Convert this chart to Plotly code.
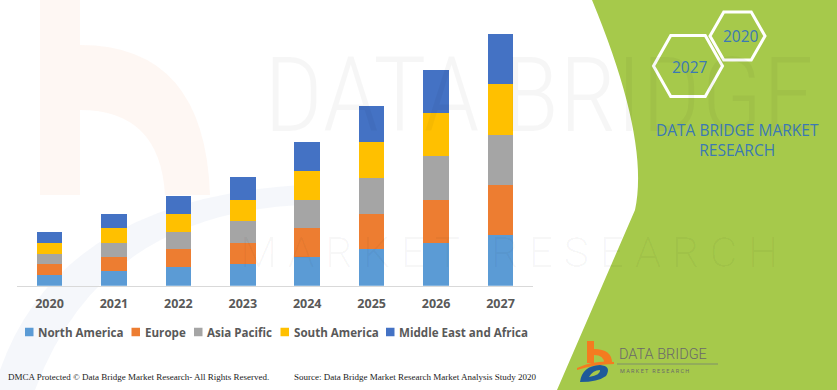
import plotly.graph_objects as go

W, H = 837, 390

years = ["2020", "2021", "2022", "2023", "2024", "2025", "2026", "2027"]
series_names = ["North America", "Europe", "Asia Pacific", "South America", "Middle East and Africa"]
north_america = [10.7, 14.3, 18.3, 21.3, 28.7, 36.3, 43.0, 50.3]
europe = [11.0, 14.7, 18.0, 21.7, 29.0, 35.7, 42.7, 50.3]
asia_pacific = [10.3, 14.0, 17.3, 21.3, 28.0, 36.0, 44.0, 50.3]
south_america = [11.0, 14.7, 18.3, 21.3, 29.0, 35.7, 43.0, 50.7]
middle_east_africa = [10.7, 14.3, 18.3, 22.7, 29.0, 36.3, 43.0, 50.3]
series_values = [north_america, europe, asia_pacific, south_america, middle_east_africa]
colors = ["#5B9BD5", "#ED7D31", "#A5A5A5", "#FFC000", "#4472C4"]

# layout helpers (pixel -> paper)
def X(px):
    return px / W

def Y(py):
    return 1 - py / H

fig = go.Figure()
for name, vals, col in zip(series_names, series_values, colors):
    fig.add_trace(go.Bar(x=years, y=vals, name=name, marker=dict(color=col, line=dict(width=0)),
                         showlegend=False, hoverinfo="x+y+name"))

shapes = []
annotations = []

# --- faint watermark (background) ---
shapes.append(dict(type="rect", xref="paper", yref="paper", x0=X(40), x1=X(80), y0=Y(195), y1=Y(0),
                   fillcolor="rgba(240,140,80,0.07)", line=dict(width=0), layer="below"))
shapes.append(dict(type="path", xref="paper", yref="paper",
                   path=f"M{X(80)},{Y(45)} Q{X(205)},{Y(45)} {X(210)},{Y(195)} L{X(165)},{Y(195)} Q{X(160)},{Y(110)} {X(80)},{Y(110)} Z",
                   fillcolor="rgba(240,140,80,0.07)", line=dict(width=0), layer="below"))
shapes.append(dict(type="path", xref="paper", yref="paper",
                   path=f"M{X(0)},{Y(370)} Q{X(60)},{Y(200)} {X(300)},{Y(185)} L{X(300)},{Y(205)} Q{X(100)},{Y(215)} {X(35)},{Y(390)} L{X(0)},{Y(390)} Z",
                   fillcolor="rgba(90,120,180,0.06)", line=dict(width=0), layer="below"))
annotations.append(dict(text="DATA BRIDGE", x=X(262), y=Y(95), xref="paper", yref="paper", xanchor="left",
                        yanchor="middle", showarrow=False,
                        font=dict(family="Liberation Sans Narrow, Roboto Condensed, Roboto", size=104,
                                  color="rgba(0,0,0,0.035)", weight=300)))
annotations.append(dict(text="M A R K E T   R E S E A R C H", x=X(238), y=Y(252), xref="paper", yref="paper",
                        xanchor="left", yanchor="middle", showarrow=False,
                        font=dict(family="Roboto", size=43, color="rgba(0,0,0,0.03)", weight=300)))

# --- green panel ---
shapes.append(dict(type="path", xref="paper", yref="paper",
                   path=f"M{X(592)},{Y(0)} Q{X(650)},{Y(140)} {X(635)},{Y(210)} L{X(557)},{Y(390)} L{X(837)},{Y(390)} L{X(837)},{Y(0)} Z",
                   fillcolor="#A6C94B", line=dict(width=0), layer="below"))

def hexagon(cx, cy, hw, hh):
    pts = [(cx - hw, cy), (cx - hw / 2, cy - hh), (cx + hw / 2, cy - hh), (cx + hw, cy),
           (cx + hw / 2, cy + hh), (cx - hw / 2, cy + hh)]
    p = "M" + " L".join(f"{X(a)},{Y(b)}" for a, b in pts) + " Z"
    return dict(type="path", xref="paper", yref="paper", path=p,
                line=dict(color="white", width=3), fillcolor="rgba(0,0,0,0)", layer="above")

shapes.append(hexagon(688, 66, 34.5, 30.5))
shapes.append(hexagon(737.5, 36, 27.5, 24))

blue_txt = "#3B79B4"
annotations.append(dict(text="2027", x=X(689.5), y=Y(67), xref="paper", yref="paper", showarrow=False,
                        xanchor="center", yanchor="middle",
                        font=dict(family="Open Sans", size=15.5, color=blue_txt)))
annotations.append(dict(text="2020", x=X(740.5), y=Y(35.5), xref="paper", yref="paper", showarrow=False,
                        xanchor="center", yanchor="middle",
                        font=dict(family="Open Sans", size=15.5, color=blue_txt)))
annotations.append(dict(text="DATA BRIDGE MARKET<br>RESEARCH", x=X(737.5), y=Y(139.5), xref="paper", yref="paper",
                        showarrow=False, xanchor="center", yanchor="middle", align="center",
                        font=dict(family="Open Sans", size=15.5, color=blue_txt)))

# --- bottom logo ---
shapes.append(dict(type="rect", xref="paper", yref="paper", x0=X(587), x1=X(594), y0=Y(363), y1=Y(341),
                   fillcolor="#F47B20", line=dict(width=0)))
shapes.append(dict(type="path", xref="paper", yref="paper",
                   path=f"M{X(594)},{Y(349)} Q{X(612)},{Y(349)} {X(612)},{Y(363)} L{X(604)},{Y(363)} Q{X(604)},{Y(355)} {X(594)},{Y(355)} Z",
                   fillcolor="#F47B20", line=dict(width=0)))
shapes.append(dict(type="path", xref="paper", yref="paper",
                   path=f"M{X(577)},{Y(368)} Q{X(595)},{Y(360)} {X(614)},{Y(362)} L{X(614)},{Y(364)} Q{X(595)},{Y(364)} {X(577)},{Y(370)} Z",
                   fillcolor="#F47B20", line=dict(width=0)))
shapes.append(dict(type="path", xref="paper", yref="paper",
                   path=f"M{X(580)},{Y(382)} Q{X(582)},{Y(366)} {X(600)},{Y(365)} Q{X(612)},{Y(366)} {X(606)},{Y(376)} Q{X(598)},{Y(382)} {X(580)},{Y(382)} Z "
                        f"M{X(589)},{Y(377)} Q{X(593)},{Y(370)} {X(600)},{Y(370)} Q{X(601)},{Y(375)} {X(589)},{Y(377)} Z",
                   fillcolor="#1F5A9A", line=dict(width=0)))
annotations.append(dict(text="DATA BRIDGE", x=X(617), y=Y(354), xref="paper", yref="paper", showarrow=False,
                        xanchor="left", yanchor="middle",
                        font=dict(family="Roboto", size=14.5, color="#6A6A6A", weight=300)))
shapes.append(dict(type="line", xref="paper", yref="paper", x0=X(617), x1=X(718), y0=Y(364), y1=Y(364),
                   line=dict(color="#7F8F6A", width=1)))
annotations.append(dict(text="M A R K E T   R E S E A R C H", x=X(618), y=Y(371), xref="paper", yref="paper",
                        showarrow=False, xanchor="left", yanchor="middle",
                        font=dict(family="Roboto", size=5.5, color="#6A6A6A")))

# --- legend (drawn as shapes + text) ---
legend_x = [25, 131.5, 194, 280.5, 386]
legend_y = 332
sq = 8.5
for name, col, lx in zip(series_names, colors, legend_x):
    shapes.append(dict(type="rect", xref="paper", yref="paper", x0=X(lx), x1=X(lx + sq),
                       y0=Y(legend_y + sq / 2), y1=Y(legend_y - sq / 2), fillcolor=col, line=dict(width=0)))
    annotations.append(dict(text=name, x=X(lx + sq + 2.5), y=Y(legend_y), xref="paper", yref="paper",
                            showarrow=False, xanchor="left", yanchor="middle",
                            font=dict(family="Open Sans", size=11.6, color="#595959", weight="bold")))

# --- footer texts ---
annotations.append(dict(text="DMCA Protected © Data Bridge Market Research- All Rights Reserved.",
                        x=X(6), y=Y(377), xref="paper", yref="paper", showarrow=False,
                        xanchor="left", yanchor="middle",
                        font=dict(family="Liberation Serif", size=9, color="#222222")))
annotations.append(dict(text="Source: Data Bridge Market Research Market Analysis Study 2020",
                        x=X(292), y=Y(377), xref="paper", yref="paper", showarrow=False,
                        xanchor="left", yanchor="middle",
                        font=dict(family="Liberation Serif", size=9, color="#222222")))

fig.update_layout(
    width=W, height=H,
    margin=dict(l=0, r=0, t=0, b=0),
    paper_bgcolor="white", plot_bgcolor="rgba(0,0,0,0)",
    barmode="stack", bargap=0.603,
    showlegend=False,
    shapes=shapes, annotations=annotations,
    xaxis=dict(type="category", domain=[X(17.3), X(532.7)], range=[-0.5, 7.5],
               showline=True, linecolor="#D9D9D9", linewidth=1, showgrid=False, zeroline=False,
               ticks="outside", ticklen=6, tickcolor="rgba(0,0,0,0)",
               tickfont=dict(family="Open Sans", size=12.5, color="#595959", weight="bold")),
    yaxis=dict(visible=False, range=[0, 260], domain=[Y(285.7), Y(25.7)], showgrid=False, zeroline=False),
)

fig.write_html("out.html", config={"displayModeBar": False},
               post_script="document.body.style.margin='0';document.body.style.overflow='hidden';")
